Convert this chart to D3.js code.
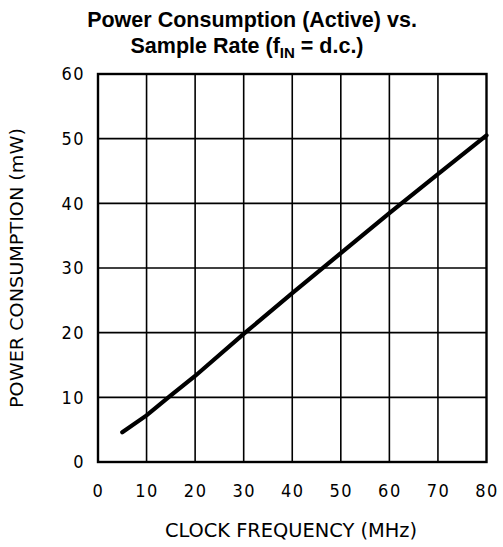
<!DOCTYPE html>
<html><head><meta charset="utf-8">
<script src="https://cdn.jsdelivr.net/npm/d3@7"></script>
<style>body{margin:0;background:#fff}svg{display:block}</style>
</head><body><div id="chart"></div>
<script>
const clockMHz = [5, 10, 15, 20, 30, 40, 50, 60, 70, 80];
const powerMW  = [4.6, 7.2, 10.3, 13.3, 19.8, 26.1, 32.3, 38.5, 44.5, 50.5];
const xTicks = [0, 10, 20, 30, 40, 50, 60, 70, 80];
const yTicks = [0, 10, 20, 30, 40, 50, 60];
const titleLine1 = "Power Consumption (Active) vs.";
const xTitle = "CLOCK FREQUENCY (MHz)";
const yTitle = "POWER CONSUMPTION (mW)";

const W = 503, H = 547;
const m = {left: 98, right: 16.5, top: 74, bottom: 85};
const svg = d3.select("#chart").append("svg").attr("width", W).attr("height", H);
const x = d3.scaleLinear().domain([0, 80]).range([m.left, W - m.right]);
const y = d3.scaleLinear().domain([0, 60]).range([H - m.bottom, m.top]);

// grid
const g = svg.append("g");
g.selectAll(".vx").data(xTicks.slice(1, -1)).join("line")
  .attr("x1", d => x(d)).attr("x2", d => x(d)).attr("y1", y(0)).attr("y2", y(60))
  .attr("stroke", "#000").attr("stroke-width", 1.6);
g.selectAll(".hy").data(yTicks.slice(1, -1)).join("line")
  .attr("y1", d => y(d)).attr("y2", d => y(d)).attr("x1", x(0)).attr("x2", x(80))
  .attr("stroke", "#000").attr("stroke-width", 1.6);
g.append("rect").attr("x", x(0)).attr("y", y(60)).attr("width", x(80) - x(0)).attr("height", y(0) - y(60))
  .attr("fill", "none").attr("stroke", "#000").attr("stroke-width", 2.4);

// axes labels via d3 axes
const fontTick = "'DejaVu Sans Condensed', 'DejaVu Sans', sans-serif";
const xa = svg.append("g").attr("transform", `translate(0,${y(0)})`)
  .call(d3.axisBottom(x).tickValues(xTicks).tickSize(0).tickPadding(22).tickFormat(d3.format("d")));
const ya = svg.append("g").attr("transform", `translate(${x(0)},0)`)
  .call(d3.axisLeft(y).tickValues(yTicks).tickSize(0).tickPadding(13).tickFormat(d3.format("d")));
[xa, ya].forEach(a => {
  a.select(".domain").remove();
  a.selectAll("text").attr("font-family", fontTick).attr("font-size", 18)
    .attr("fill", "#000").attr("letter-spacing", 1.5);
});

// line
svg.append("path").datum(clockMHz.map((c, i) => [c, powerMW[i]]))
  .attr("d", d3.line().x(d => x(d[0])).y(d => y(d[1])))
  .attr("fill", "none").attr("stroke", "#000").attr("stroke-width", 4.2).attr("stroke-linecap", "round");

// titles
const tf = "'Liberation Sans', Arial, sans-serif";
svg.append("text").attr("text-anchor", "middle").attr("font-family", tf)
  .attr("font-weight", "bold").attr("font-size", 21.5).attr("fill", "#000")
  .attr("x", 252).attr("y", 27).text(titleLine1);
const t2 = svg.append("text").attr("text-anchor", "middle").attr("font-family", tf)
  .attr("font-weight", "bold").attr("font-size", 21.5).attr("fill", "#000").attr("x", 247).attr("y", 53);
t2.append("tspan").text("Sample Rate (f");
t2.append("tspan").attr("font-size", 15).attr("dy", 5).text("IN");
t2.append("tspan").attr("dy", -5).text(" = d.c.)");

svg.append("text").attr("x", 291).attr("y", 537).attr("text-anchor", "middle")
  .attr("font-family", fontTick).attr("font-size", 19).attr("fill", "#000")
  .attr("textLength", 252).attr("lengthAdjust", "spacingAndGlyphs").text(xTitle);
svg.append("text").attr("transform", "translate(23,268) rotate(-90)").attr("text-anchor", "middle")
  .attr("font-family", fontTick).attr("font-size", 18).attr("fill", "#000")
  .attr("textLength", 280).attr("lengthAdjust", "spacingAndGlyphs").text(yTitle);
</script></body></html>
